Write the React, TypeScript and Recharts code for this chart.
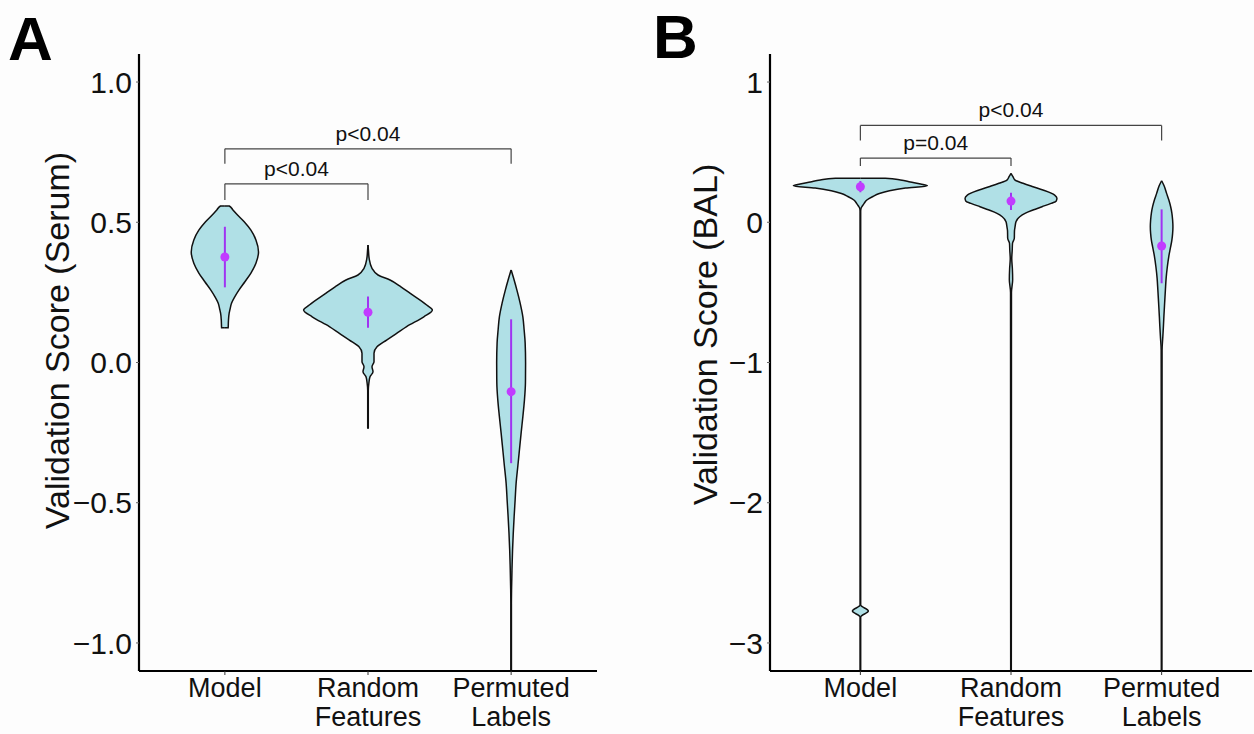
import React from "react";
import {
  ComposedChart,
  Area,
  XAxis,
  YAxis,
  ReferenceLine,
  ReferenceDot,
} from "recharts";

// [score, half width of the violin in category units]
type Profile = [number, number][];
type Bracket = { from: number; to: number; y: number; tip: number; label: string };

const categories = ["Model", "Random\nFeatures", "Permuted\nLabels"];
const categoryTicks = [1, 2, 3];

// Panel A - serum
const serumTicks = [-1, -0.5, 0, 0.5, 1];
const serumModel: Profile = [
  [0.5581, 0], [0.558, 0.031], [0.545, 0.055], [0.532, 0.077], [0.502, 0.135],
  [0.472, 0.182], [0.437, 0.217], [0.394, 0.235], [0.354, 0.217], [0.319, 0.182],
  [0.288, 0.14], [0.258, 0.098], [0.235, 0.07], [0.212, 0.047], [0.19, 0.036],
  [0.176, 0.03], [0.15, 0.025], [0.124, 0.023], [0.1239, 0],
];
const serumRandom: Profile = [
  [0.419, 0], [0.4, 0.003], [0.371, 0.008], [0.336, 0.028], [0.312, 0.07],
  [0.294, 0.154], [0.27, 0.23], [0.247, 0.293], [0.205, 0.41], [0.187, 0.45],
  [0.163, 0.39], [0.128, 0.27], [0.104, 0.2], [0.08, 0.13], [0.056, 0.063],
  [0.033, 0.042], [0.003, 0.042], [-0.015, 0.028], [-0.033, 0.035], [-0.051, 0.014],
  [-0.074, 0.006], [-0.1, 0.002], [-0.234, 0.002], [-0.235, 0],
];
const serumPermuted: Profile = [
  [0.33, 0], [0.294, 0.021], [0.259, 0.04], [0.212, 0.063], [0.163, 0.082],
  [0.116, 0.091], [0.07, 0.098], [-0.002, 0.101], [-0.073, 0.1], [-0.134, 0.093],
  [-0.193, 0.082], [-0.251, 0.07], [-0.312, 0.058], [-0.369, 0.047], [-0.43, 0.035],
  [-0.49, 0.028], [-0.55, 0.021], [-0.608, 0.015], [-0.668, 0.01], [-0.74, 0.006],
  [-0.81, 0.003], [-0.86, 0.002], [-1.099, 0.002], [-1.1, 0],
];
const serumMedians = [0.376, 0.179, -0.104];
const serumRanges: [number, number][] = [[0.268, 0.484], [0.124, 0.235], [-0.359, 0.154]];
const serumBrackets: Bracket[] = [
  { from: 1, to: 2, y: 0.637, tip: 0.579, label: "p<0.04" },
  { from: 1, to: 3, y: 0.762, tip: 0.709, label: "p<0.04" },
];

// Panel B - BAL
const balTicks = [-3, -2, -1, 0, 1];
const balModel: Profile = [
  [0.3135, 0], [0.3134, 0.166], [0.3013, 0.266], [0.287, 0.332], [0.2727, 0.4],
  [0.2606, 0.445], [0.2442, 0.3], [0.225, 0.193], [0.205, 0.126], [0.182, 0.08],
  [0.1586, 0.043], [0.1351, 0.025], [0.1159, 0.013], [0.1016, 0.005], [0.08, 0.002],
  [-2.729, 0.002], [-2.772, 0.053], [-2.815, 0.002], [-3.199, 0.002], [-3.2, 0],
];
const balRandom: Profile = [
  [0.349, 0], [0.325, 0.013], [0.301, 0.027], [0.278, 0.08], [0.2535, 0.146],
  [0.23, 0.212], [0.1943, 0.29], [0.1708, 0.305], [0.1515, 0.3], [0.135, 0.266],
  [0.111, 0.206], [0.0873, 0.146], [0.0638, 0.093], [0.0396, 0.058], [0.0039, 0.033],
  [-0.0317, 0.027], [-0.0624, 0.023], [-0.1144, 0.022], [-0.15, 0.01], [-0.2, 0.008],
  [-0.26, 0.005], [-0.33, 0.009], [-0.41, 0.011], [-0.5, 0.003], [-3.199, 0.002], [-3.2, 0],
];
const balPermuted: Profile = [
  [0.296, 0], [0.2585, 0.017], [0.206, 0.033], [0.1586, 0.048], [0.111, 0.06],
  [0.066, 0.068], [0.016, 0.073], [-0.032, 0.075], [-0.079, 0.073], [-0.127, 0.068],
  [-0.174, 0.06], [-0.241, 0.048], [-0.317, 0.038], [-0.398, 0.03], [-0.483, 0.025],
  [-0.576, 0.02], [-0.673, 0.015], [-0.74, 0.012], [-0.816, 0.008], [-0.91, 0.003],
  [-3.199, 0.002], [-3.2, 0],
];
const balMedians = [0.253, 0.151, -0.169];
const balRanges: [number, number][] = [[0.214, 0.294], [0.087, 0.211], [-0.435, 0.092]];
const balBrackets: Bracket[] = [
  { from: 1, to: 2, y: 0.458, tip: 0.401, label: "p=0.04" },
  { from: 1, to: 3, y: 0.691, tip: 0.584, label: "p<0.04" },
];

const FONT = "'Liberation Sans', Arial, sans-serif";
const minus = (s: string) => s.replace("-", "\u2212");

const toViolin = (profile: Profile, center: number) =>
  profile.map(([y, w]) => ({ y, band: [center - w, center + w] }));

const CategoryTick = (props: any) => {
  const { x, y, payload } = props;
  const lines = categories[Math.round(payload.value) - 1].split("\n");
  return (
    <text x={x} y={y} textAnchor="middle" fontSize={27} fill="#111">
      {lines.map((line, i) => (
        <tspan key={i} x={x} dy={i === 0 ? 20 : 29}>
          {line}
        </tspan>
      ))}
    </text>
  );
};

type PanelProps = {
  width: number;
  yAxisWidth: number;
  marginRight: number;
  domain: [number, number];
  ticks: number[];
  tickFormat: (v: number) => string;
  violins: Profile[];
  medians: number[];
  ranges: [number, number][];
  brackets: Bracket[];
  title: string;
  titleX: number;
  titleShift: number;
};

const ViolinPanel = (p: PanelProps) => {
  const titleLabel = (props: any) => {
    const vb = props.viewBox;
    const cx = vb.x + p.titleX;
    const cy = vb.y + vb.height / 2 + p.titleShift;
    return (
      <text
        x={cx}
        y={cy}
        transform={`rotate(-90 ${cx} ${cy})`}
        textAnchor="middle"
        dominantBaseline="central"
        fontSize={34}
        fill="#111"
      >
        {p.title}
      </text>
    );
  };

  return (
    <ComposedChart
      width={p.width}
      height={734}
      layout="vertical"
      margin={{ top: 54, right: p.marginRight, bottom: 0, left: 0 }}
    >
      <XAxis
        type="number"
        domain={[0.4, 3.6]}
        ticks={categoryTicks}
        allowDataOverflow
        height={63}
        tick={<CategoryTick />}
        tickSize={4}
        tickLine={{ stroke: "#333" }}
        axisLine={{ stroke: "#000", strokeWidth: 2.2 }}
      />
      <YAxis
        type="number"
        dataKey="y"
        domain={p.domain}
        ticks={p.ticks}
        allowDataOverflow
        reversed
        width={p.yAxisWidth}
        tickFormatter={p.tickFormat}
        tick={{ fontSize: 30, fill: "#111" }}
        tickSize={3}
        tickMargin={4}
        tickLine={{ stroke: "#666" }}
        axisLine={{ stroke: "#000", strokeWidth: 2.2 }}
        label={titleLabel}
      />
      {p.violins.map((v, i) => (
        <Area
          key={i}
          data={toViolin(v, i + 1)}
          dataKey="band"
          type="monotone"
          stroke="#111"
          strokeWidth={1.5}
          fill="#b0e0e6"
          fillOpacity={1}
          dot={false}
          activeDot={false}
          isAnimationActive={false}
        />
      ))}
      {p.ranges.map(([lo, hi], i) => (
        <ReferenceLine
          key={`r${i}`}
          segment={[{ x: i + 1, y: lo }, { x: i + 1, y: hi }]}
          stroke="#a034f2"
          strokeWidth={2}
        />
      ))}
      {p.medians.map((m, i) => (
        <ReferenceDot key={`m${i}`} x={i + 1} y={m} r={4.5} fill="#c13cff" stroke="none" />
      ))}
      {p.brackets.map((b, i) => (
        <React.Fragment key={`b${i}`}>
          <ReferenceLine
            segment={[{ x: b.from, y: b.tip }, { x: b.from, y: b.y }]}
            stroke="#444"
            strokeWidth={1.2}
          />
          <ReferenceLine
            segment={[{ x: b.from, y: b.y }, { x: b.to, y: b.y }]}
            stroke="#444"
            strokeWidth={1.2}
            label={{ value: b.label, position: "top", offset: 8, fontSize: 21, fill: "#111" }}
          />
          <ReferenceLine
            segment={[{ x: b.to, y: b.y }, { x: b.to, y: b.tip }]}
            stroke="#444"
            strokeWidth={1.2}
          />
        </React.Fragment>
      ))}
    </ComposedChart>
  );
};

const letterStyle: React.CSSProperties = {
  position: "absolute",
  fontSize: 62,
  fontWeight: 700,
  lineHeight: "72px",
  color: "#000",
};

export default function App() {
  return (
    <div
      style={{
        position: "absolute",
        left: 0,
        top: 0,
        width: 1254,
        height: 734,
        background: "#fdfdfd",
        fontFamily: FONT,
        overflow: "hidden",
      }}
    >
      <div style={{ position: "absolute", left: 0, top: 0 }}>
        <ViolinPanel
          width={610}
          yAxisWidth={139}
          marginRight={13}
          domain={[-1.1, 1.1]}
          ticks={serumTicks}
          tickFormat={(v) => minus(v.toFixed(1))}
          violins={[serumModel, serumRandom, serumPermuted]}
          medians={serumMedians}
          ranges={serumRanges}
          brackets={serumBrackets}
          title="Validation Score (Serum)"
          titleX={57}
          titleShift={-22}
        />
      </div>
      <div style={{ position: "absolute", left: 620, top: 0 }}>
        <ViolinPanel
          width={634}
          yAxisWidth={150}
          marginRight={2}
          domain={[-3.2, 1.2]}
          ticks={balTicks}
          tickFormat={(v) => minus(String(v))}
          violins={[balModel, balRandom, balPermuted]}
          medians={balMedians}
          ranges={balRanges}
          brackets={balBrackets}
          title="Validation Score (BAL)"
          titleX={85}
          titleShift={-28}
        />
      </div>
      <div style={{ ...letterStyle, left: 8, top: 3 }}>A</div>
      <div style={{ ...letterStyle, left: 653, top: 1 }}>B</div>
    </div>
  );
}
